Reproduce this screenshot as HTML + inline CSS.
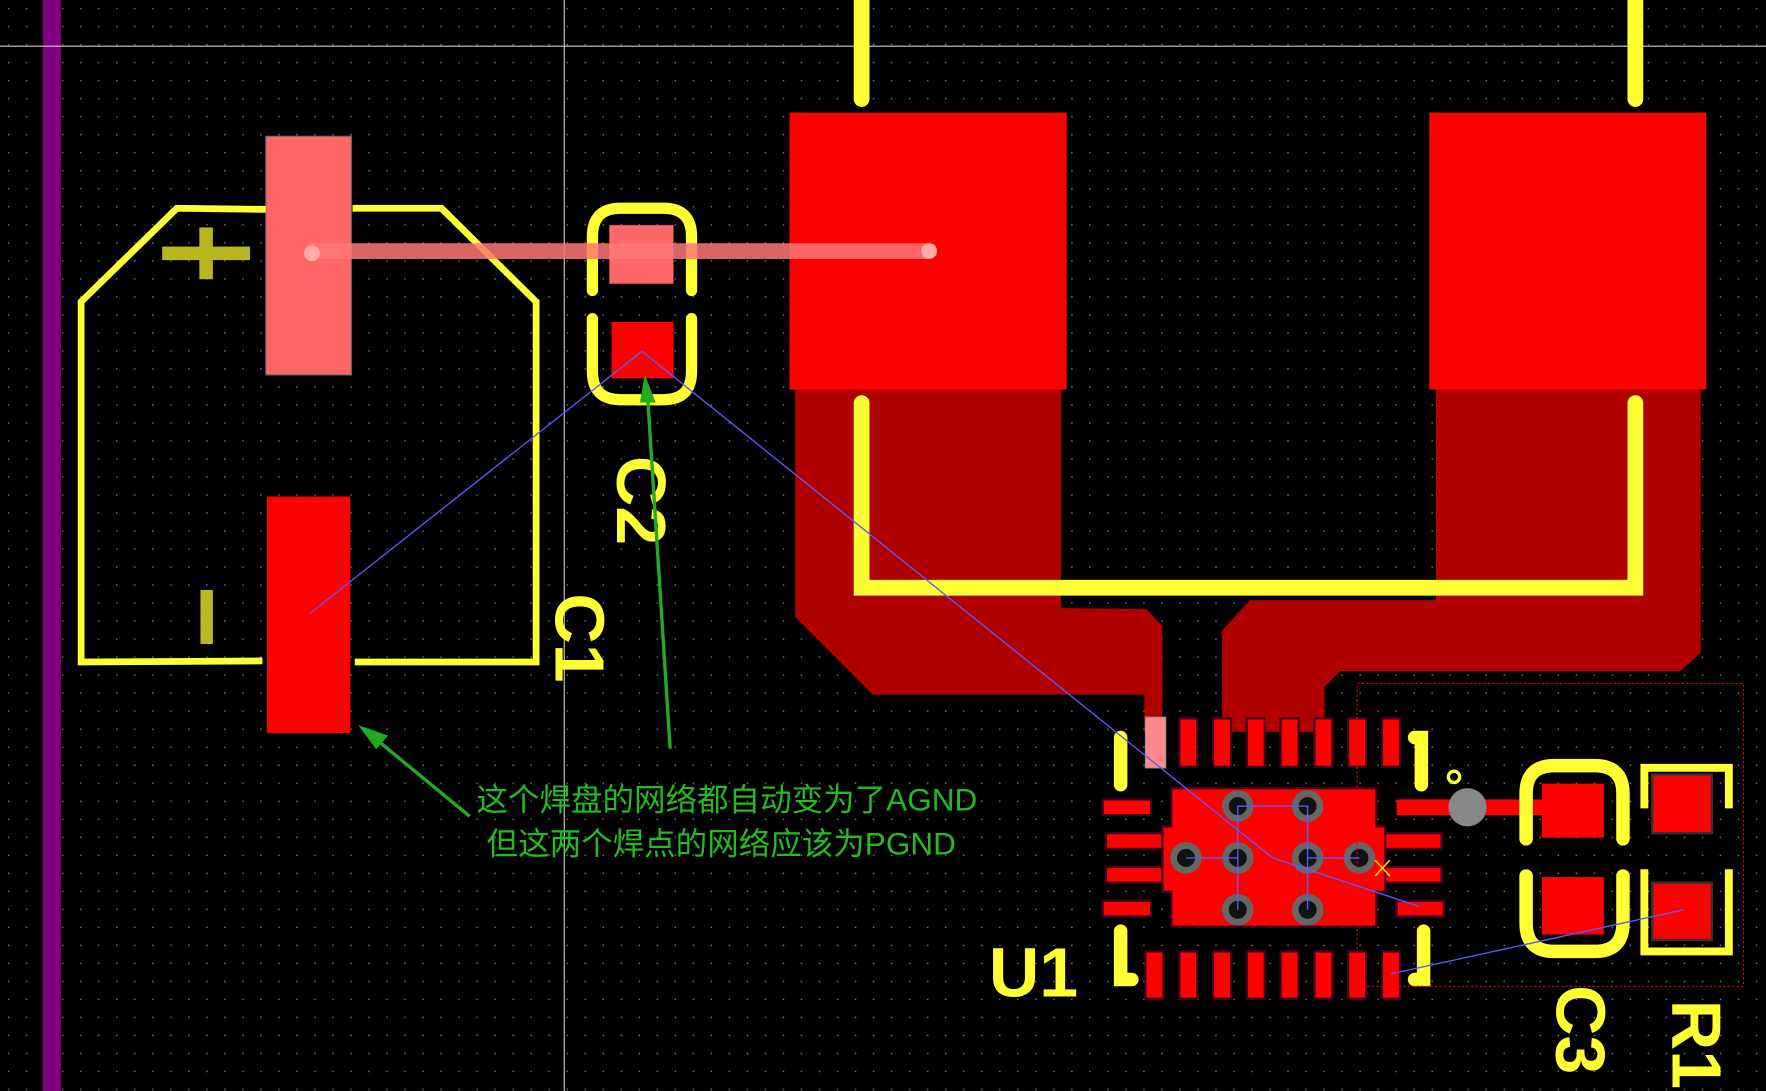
<!DOCTYPE html>
<html><head><meta charset="utf-8"><style>html,body{margin:0;padding:0;background:#000;overflow:hidden}svg{display:block}</style></head><body>
<svg width="1766" height="1091" viewBox="0 0 1568 969" preserveAspectRatio="none" xmlns="http://www.w3.org/2000/svg">
<defs><pattern id="g" width="16" height="16" patternUnits="userSpaceOnUse"><rect x="7" y="7" width="1.3" height="1.3" fill="#777"/></pattern></defs>
<rect width="1568" height="969" fill="#000"/>
<rect width="1568" height="969" fill="url(#g)"/>
<rect x="38" y="0" width="16" height="969" fill="#800080"/>
<line x1="0" y1="41" x2="1568" y2="41" stroke="#ccc" stroke-width="1"/>
<line x1="501" y1="0" x2="501" y2="969" stroke="#ccc" stroke-width="1"/>
<!-- copper pours -->
<polygon points="706,346 942,346 942,540 1018,541 1032,556 1032,650 1016,650 1016,617 775,617 706,548" fill="#b00000"/>
<polygon points="1275,346 1510,346 1510,580 1492,596 1190,596 1176,610 1176,650 1085,650 1085,560 1110,533 1275,533" fill="#b00000"/>
<rect x="701" y="100" width="246" height="246" fill="#f00"/>
<rect x="1269" y="100" width="246" height="246" fill="#f00"/>
<g stroke="#ffff33" stroke-width="14" stroke-linecap="round" fill="none">
<line x1="765" y1="0" x2="765" y2="88"/><line x1="1452" y1="0" x2="1452" y2="88"/>
<polyline points="765,358 765,522 1452,522 1452,358"/>
</g>
<!-- C1 -->
<rect x="236" y="121" width="76" height="212" fill="#ff6666" stroke="#666" stroke-width="1"/>
<rect x="237" y="441" width="74" height="210" fill="#f00"/>
<g stroke="#ffff33" stroke-width="6" fill="none">
<polyline points="236,186 157,185 72,268 72,588 233,587"/>
<polyline points="313,185 392,185 476,268 476,588 315,588"/>
</g>
<g fill="#cccc22" opacity="0.9"><rect x="144" y="219" width="78" height="12"/><rect x="177" y="202" width="12" height="46"/><rect x="178" y="524" width="11" height="48"/></g>
<!-- C2 -->
<rect x="541" y="200" width="57" height="52" fill="#ff6666"/>
<rect x="543" y="286" width="55" height="50" fill="#f00"/>
<g stroke="#ffff33" stroke-width="10" fill="none" stroke-linecap="round">
<path d="M526,258 V210 Q526,185 551,185 H589 Q614,185 614,210 V258"/>
<path d="M526,283 V330 Q526,355 551,355 H589 Q614,355 614,330 V283"/>
</g>
<line x1="277" y1="223" x2="825" y2="223" stroke="#ff7777" stroke-width="14" stroke-linecap="round" opacity="0.85"/>
<circle cx="277" cy="225" r="7" fill="#ffaaaa"/><circle cx="825" cy="223" r="7" fill="#ffaaaa"/>
<!-- U1 -->
<g fill="#f00" stroke="#400020" stroke-width="2">
<rect x="1047" y="638" width="16" height="43"/><rect x="1077" y="638" width="16" height="43"/><rect x="1107" y="638" width="16" height="43"/><rect x="1137" y="638" width="16" height="43"/><rect x="1167" y="638" width="16" height="43"/><rect x="1197" y="638" width="16" height="43"/><rect x="1227" y="638" width="16" height="43"/>
<rect x="1017" y="845" width="16" height="42"/><rect x="1047" y="845" width="16" height="42"/><rect x="1077" y="845" width="16" height="42"/><rect x="1107" y="845" width="16" height="42"/><rect x="1137" y="845" width="16" height="42"/><rect x="1167" y="845" width="16" height="42"/><rect x="1197" y="845" width="16" height="42"/><rect x="1227" y="845" width="16" height="42"/>
<rect x="979" y="710" width="43" height="14"/><rect x="979" y="800" width="43" height="14"/>
<rect x="982" y="740" width="60" height="14"/><rect x="982" y="770" width="60" height="14"/>
<rect x="1225" y="740" width="55" height="14"/><rect x="1225" y="770" width="55" height="14"/>
<rect x="1240" y="800" width="42" height="14"/>
<path d="M1040,700 H1222 V734 H1230 V792 H1222 V823 H1040 V792 H1032 V734 H1040 Z"/>
</g>
<rect x="1017" y="637" width="18" height="45" fill="#ff8888" stroke="#999" stroke-width="1"/>
<line x1="1240" y1="717" x2="1370" y2="717" stroke="#f00" stroke-width="14"/>
<circle cx="1303" cy="717" r="17" fill="#888"/>
<g fill="#111" stroke="#666" stroke-width="6">
<circle cx="1099" cy="716" r="11"/><circle cx="1161" cy="716" r="11"/><circle cx="1053" cy="762" r="11"/><circle cx="1099" cy="762" r="11"/><circle cx="1161" cy="762" r="11"/><circle cx="1207" cy="762" r="11"/><circle cx="1099" cy="808" r="11"/><circle cx="1161" cy="808" r="11"/>
</g>
<g stroke="#ffff33" stroke-width="12" stroke-linecap="round" fill="none">
<line x1="995" y1="655" x2="995" y2="697"/>
<polyline points="995,827 995,870 1005,870"/>
<polyline points="1256,655 1262,655 1262,697"/>
<polyline points="1264,827 1264,870 1256,870"/>
</g>
<circle cx="1291" cy="690" r="5" fill="none" stroke="#ffff33" stroke-width="3"/>
<!-- C3 R1 -->
<rect x="1369" y="696" width="55" height="48" fill="#f00"/>
<rect x="1369" y="779" width="55" height="51" fill="#f00"/>
<rect x="1467" y="688" width="53" height="52" fill="#f00" stroke="#333" stroke-width="2"/>
<rect x="1467" y="784" width="53" height="51" fill="#f00" stroke="#333" stroke-width="2"/>
<g stroke="#ffff33" stroke-width="12" fill="none" stroke-linecap="round">
<path d="M1355,745 V705 Q1355,680 1380,680 H1416 Q1441,680 1441,705 V745"/>
<path d="M1355,778 V820 Q1355,845 1380,845 H1416 Q1441,845 1441,820 V778"/>
</g>
<g stroke="#ffff33" stroke-width="7" fill="none">
<polyline points="1460,718 1460,682 1535,682 1535,718"/>
<polyline points="1460,772 1460,845 1535,845 1535,772"/>
</g>
<rect x="1205" y="607" width="343" height="269" fill="none" stroke="#e00" stroke-width="1" stroke-dasharray="2,2"/>
<!-- ratsnest -->
<g stroke="#5a5aff" stroke-width="1.2" fill="none">
<polyline points="275,545 570,312 1130,762 1260,805"/>
<polyline points="1099,808 1099,716 1161,716 1161,808"/>
<line x1="1053" y1="762" x2="1099" y2="762"/><line x1="1161" y1="762" x2="1207" y2="762"/>
<line x1="1235" y1="865" x2="1495" y2="808"/>
</g>
<g stroke="#ffcc00" stroke-width="1.5"><line x1="1221" y1="764" x2="1234" y2="778"/><line x1="1234" y1="764" x2="1221" y2="778"/></g>
<!-- labels -->
<g font-family="Liberation Sans, sans-serif" font-weight="bold" fill="#ffff33" font-size="62">
<text transform="translate(548,405) rotate(90)">C2</text>
<text transform="translate(493,527) rotate(90)">C1</text>
<text x="878" y="885">U1</text>
<text transform="translate(1382,875) rotate(90)">C3</text>
<text transform="translate(1485,888) rotate(90)">R1</text>
</g>
<!-- arrows -->
<g stroke="#22aa22" stroke-width="3" fill="#22aa22">
<line x1="417" y1="725" x2="332" y2="655"/>
<polygon points="322,647 342,654 334,663"/>
<line x1="595" y1="665" x2="575" y2="352"/>
<polygon points="573,338 580,356 570,356"/>
</g>
<g font-family="Liberation Sans, 'Noto Sans CJK SC', sans-serif" font-size="28" fill="#22bb22">
<text x="423" y="720">这个焊盘的网络都自动变为了AGND</text>
<text x="432" y="759">但这两个焊点的网络应该为PGND</text>
</g>
</svg>
</body></html>
